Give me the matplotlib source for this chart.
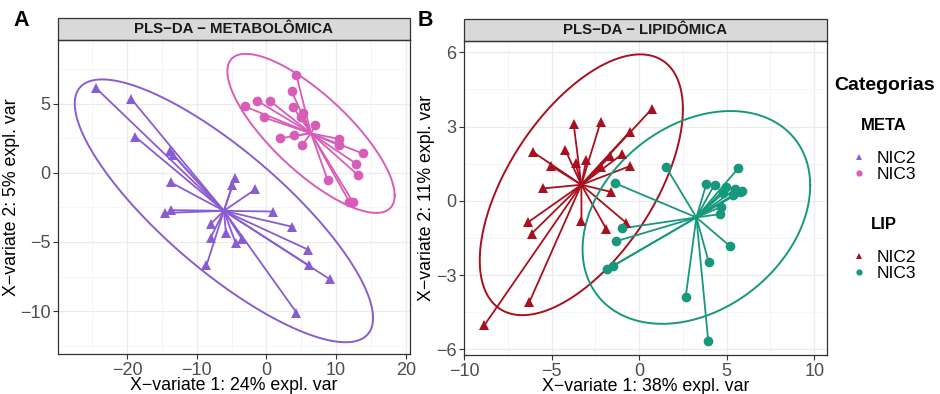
import matplotlib
matplotlib.use('Agg')
import matplotlib.pyplot as plt
import numpy as np
from matplotlib.patches import Rectangle
from matplotlib.lines import Line2D
import matplotlib.ticker as mticker

plt.rcParams['font.family'] = ['Liberation Sans', 'DejaVu Sans']

# ---- dados: painel A (metabolomica) ----
meta_nic2_x = [-24.4, -19.4, -18.8, -13.8, -13.4, -13.7, -4.9, -4.5, -1.6, -14.5, -13.7,
               0.9, 3.7, -8.0, -8.0, -5.8, -4.4, -3.5, -8.6, 5.95, 6.1, 9.1, 4.3]
meta_nic2_y = [6.1, 5.35, 2.6, 1.55, 1.3, -0.7, -0.9, -0.4, -1.2, -2.9, -2.7,
               -2.8, -3.9, -3.7, -4.7, -4.35, -5.1, -4.8, -6.7, -5.55, -6.7, -7.7, -10.1]
meta_nic2_centro = (-6.1, -2.75)
meta_nic2_elipse = (21.4, 9.5, -0.816)   # semi-amplitude x, semi-amplitude y, correlacao

meta_nic3_x = [-3.1, -1.3, 0.5, -0.35, 4.3, 3.6, 3.8, 5.2, 5.0, 7.0, 2.0, 4.0, 5.1,
               10.4, 10.4, 13.8, 12.9, 13.1, 8.8, 11.9, 12.4]
meta_nic3_y = [4.8, 5.2, 5.2, 4.0, 7.05, 5.9, 4.75, 4.3, 4.0, 3.45, 2.5, 2.7, 2.0,
               2.45, 2.0, 1.4, 0.65, -0.15, -0.55, -2.1, -2.1]
meta_nic3_centro = (6.4, 2.85)
meta_nic3_elipse = (12.0, 5.75, -0.78)

# ---- dados: painel B (lipidomica) ----
lip_nic2_x = [0.75, -0.54, -2.2, -3.74, -6.07, -4.22, -5.02, -3.63, -3.02, -1.65, -0.96,
              -0.54, -2.16, -5.5, -1.59, -6.35, -6.13, -3.29, -1.87, -0.73, -6.26, -8.83]
lip_nic2_y = [3.73, 2.79, 3.19, 3.12, 1.98, 2.07, 1.41, 1.51, 1.64, 1.80, 1.89,
              1.40, 1.37, 0.5, 0.36, -0.87, -1.32, -0.82, -1.14, -0.89, -4.08, -5.02]
lip_nic2_centro = (-3.3, 0.65)
lip_nic2_elipse = (5.8, 5.27, 0.58)

lip_nic3_x = [1.55, 5.65, -1.4, 3.84, 4.31, 4.98, 5.46, 5.74, 5.9, 5.36, 4.79, 4.7, 4.6,
              -0.96, -1.3, -1.5, -1.84, 5.17, 3.97, 2.66, 3.95]
lip_nic3_y = [1.35, 1.31, 0.72, 0.68, 0.66, 0.55, 0.46, 0.36, 0.4, 0.23, 0.3, -0.24, -0.54,
              -1.11, -1.63, -2.64, -2.77, -1.82, -2.46, -3.88, -5.68]
lip_nic3_centro = (3.27, -0.67)
lip_nic3_elipse = (6.5, 4.3, 0.3)

cor_meta_nic2 = '#8A5CD3'
cor_meta_nic3 = '#D85DB8'
cor_lip_nic2 = '#A8101D'
cor_lip_nic3 = '#17987C'


def desenha_grupo(ax, xs, ys, centro, elipse, cor, marcador):
    cx, cy = centro
    for x, y in zip(xs, ys):
        ax.plot([cx, x], [cy, y], color=cor, lw=1.3, zorder=3, solid_capstyle='butt')
    ax.plot(xs, ys, ls='none', marker=marcador, color=cor, markersize=7,
            markeredgewidth=0, zorder=4)
    rx, ry, rho = elipse
    t = np.linspace(0, 2 * np.pi, 300)
    phi = np.arccos(rho)
    ax.plot(cx + rx * np.cos(t), cy + ry * np.cos(t - phi), color=cor, lw=1.4, zorder=3)


def estilo_painel(ax, titulo, xlim, ylim, xmaj, ymaj, xlabel, ylabel, ylabel_x):
    ax.set_xlim(*xlim)
    ax.set_ylim(*ylim)
    ax.xaxis.set_major_locator(mticker.MultipleLocator(xmaj))
    ax.yaxis.set_major_locator(mticker.MultipleLocator(ymaj))
    ax.xaxis.set_minor_locator(mticker.MultipleLocator(xmaj / 2))
    ax.yaxis.set_minor_locator(mticker.MultipleLocator(ymaj / 2))
    ax.grid(which='major', color='#EBEBEB', lw=0.9, zorder=0)
    ax.grid(which='minor', color='#F4F4F4', lw=0.6, zorder=0)
    ax.set_axisbelow(True)
    ax.tick_params(which='minor', length=0)
    ax.tick_params(which='major', length=3.5, width=0.8, color='#333333',
                   labelsize=13, labelcolor='#4D4D4D', pad=2)
    for s in ax.spines.values():
        s.set_color('#333333')
        s.set_linewidth(0.9)
    ax.set_xlabel(xlabel, fontsize=12.8)
    ax.set_ylabel(ylabel, fontsize=12.8)
    ax.xaxis.set_label_coords(0.5, -0.074)
    ax.yaxis.set_label_coords(ylabel_x, 0.5)
    h = 22 / 314
    ax.add_patch(Rectangle((0, 1), 1, h, transform=ax.transAxes, clip_on=False,
                           facecolor='#D9D9D9', edgecolor='#333333', lw=0.9))
    ax.text(0.5, 1 + h / 2, titulo, transform=ax.transAxes, ha='center', va='center',
            fontsize=10.8, fontweight='bold', color='#1A1A1A')


fig = plt.figure(figsize=(9.4, 3.94), dpi=100)
ax1 = fig.add_axes([58 / 940, 1 - 354 / 394, 352 / 940, 314 / 394])
ax2 = fig.add_axes([464 / 940, 1 - 355 / 394, 363 / 940, 314 / 394])

desenha_grupo(ax1, meta_nic2_x, meta_nic2_y, meta_nic2_centro, meta_nic2_elipse, cor_meta_nic2, '^')
desenha_grupo(ax1, meta_nic3_x, meta_nic3_y, meta_nic3_centro, meta_nic3_elipse, cor_meta_nic3, 'o')
desenha_grupo(ax2, lip_nic2_x, lip_nic2_y, lip_nic2_centro, lip_nic2_elipse, cor_lip_nic2, '^')
desenha_grupo(ax2, lip_nic3_x, lip_nic3_y, lip_nic3_centro, lip_nic3_elipse, cor_lip_nic3, 'o')

estilo_painel(ax1, 'PLS−DA − METABOLÔMICA', (-29.9, 20.6), (-13.1, 9.6), 10, 5,
              'X−variate 1: 24% expl. var', 'X−variate 2: 5% expl. var', -0.108)
estilo_painel(ax2, 'PLS−DA − LIPIDÔMICA', (-10.0, 10.73), (-6.23, 6.46), 5, 3,
              'X−variate 1: 38% expl. var', 'X−variate 2: 11% expl. var', -0.08)

fig.text(21 / 940, 1 - 20 / 394, 'A', fontsize=15.5, fontweight='bold', ha='center', va='center')
fig.text(425 / 940, 1 - 20 / 394, 'B', fontsize=15.5, fontweight='bold', ha='center', va='center')

# legenda
fig.text(885 / 940, 1 - 85 / 394, 'Categorias', fontsize=14, fontweight='bold',
         ha='center', va='center')
h1 = [Line2D([], [], ls='none', marker='^', color=cor_meta_nic2, markersize=5, markeredgewidth=0),
      Line2D([], [], ls='none', marker='o', color=cor_meta_nic3, markersize=4.5, markeredgewidth=0)]
h2 = [Line2D([], [], ls='none', marker='^', color=cor_lip_nic2, markersize=5, markeredgewidth=0),
      Line2D([], [], ls='none', marker='o', color=cor_lip_nic3, markersize=4.5, markeredgewidth=0)]
for hs, tit, ytop in [(h1, 'META', 118), (h2, 'LIP', 217)]:
    leg = fig.legend(hs, ['NIC2', 'NIC3'], title=tit, loc='upper center',
                     bbox_to_anchor=(884 / 940, 1 - ytop / 394), frameon=False,
                     fontsize=12.5, title_fontproperties={'weight': 'bold', 'size': 12},
                     handlelength=0.8, handletextpad=0.6, labelspacing=0.05, borderpad=0,
                     borderaxespad=0)
    leg._legend_box.sep = 13

fig.savefig('out.png', dpi=100)
